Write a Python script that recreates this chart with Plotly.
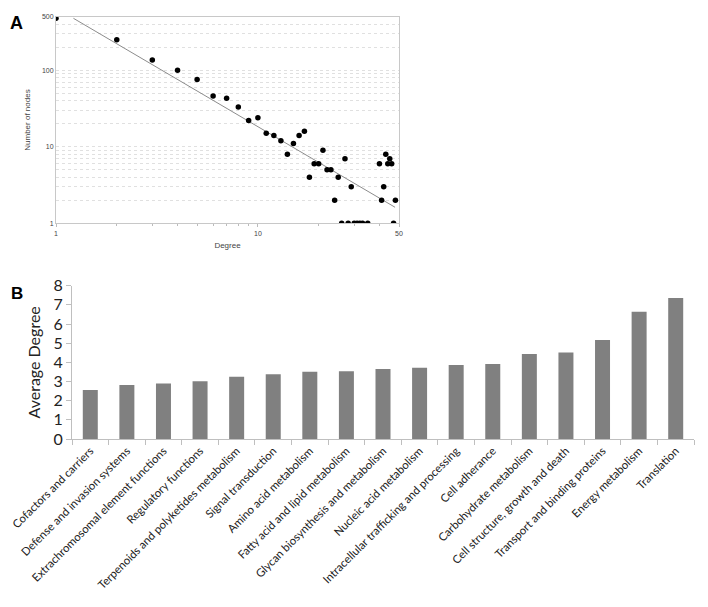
import plotly.graph_objects as go

# ---------------- Panel A data: degree distribution ----------------
degree = [1, 2, 3, 4, 5, 6, 7, 8, 9, 10, 11, 12, 13, 14, 15, 16, 17, 18, 19, 20,
          21, 22, 23, 24, 25, 26, 27, 28, 29, 30, 31, 32, 33, 35,
          40, 41, 42, 43, 44, 45, 46, 47, 48]
num_nodes = [478, 250, 136, 100, 76, 46, 43, 33, 22, 24, 15, 14, 12, 8, 11, 14, 16, 4, 6, 6,
             9, 5, 5, 2, 4, 1, 7, 1, 3, 1, 1, 1, 1, 1,
             6, 2, 3, 8, 6, 7, 6, 1, 2]
fit_x = [1.22, 47.8]
fit_y = [478, 1.62]

# ---------------- Panel B data: average degree per category ----------------
categories = ["Cofactors and carriers", "Defense and invasion systems",
              "Extrachromosomal element functions", "Regulatory functions",
              "Terpenoids and polyketides metabolism", "Signal transduction",
              "Amino acid metabolism", "Fatty acid and lipid metabolism",
              "Glycan biosynthesis and metabolism", "Nucleic acid metabolism",
              "Intracellular trafficking and processing", "Cell adherance",
              "Carbohydrate metabolism", "Cell structure, growth and death",
              "Transport and binding proteins", "Energy metabolism", "Translation"]
avg_degree = [2.56, 2.82, 2.89, 3.01, 3.25, 3.38, 3.51, 3.53, 3.65, 3.72,
              3.86, 3.91, 4.43, 4.52, 5.16, 6.64, 7.36]

W, H = 708, 607
fig = go.Figure()

fig.add_trace(go.Scatter(x=fit_x, y=fit_y, mode="lines",
                         line=dict(color="#8c8c8c", width=1),
                         xaxis="x", yaxis="y", showlegend=False))
fig.add_trace(go.Scatter(x=degree, y=num_nodes, mode="markers",
                         marker=dict(color="black", size=5.5),
                         xaxis="x", yaxis="y", showlegend=False))

fig.add_trace(go.Bar(x=categories, y=avg_degree, marker=dict(color="#808080", line=dict(width=0)),
                     xaxis="x2", yaxis="y2", showlegend=False))

minor_y = [v * m for m in (1, 10, 100) for v in range(2, 10) if v * m < 500]
minor_x = [2, 3, 4, 5, 6, 7, 8, 9, 20, 30, 40]

small_font = dict(family="Liberation Sans, Arial", size=7, color="#444")

fig.update_layout(
    width=W, height=H,
    margin=dict(l=0, r=0, t=0, b=0, autoexpand=False),
    paper_bgcolor="white", plot_bgcolor="white",
    bargap=0.59,
    xaxis=dict(
        type="log", domain=[56 / W, 399 / W], range=[0, 1.69897], automargin=False,
        anchor="y", tickvals=[1, 10, 50], ticktext=["1", "10", "50"],
        tickfont=small_font, ticks="outside", ticklen=3, tickcolor="#bbb",
        minor=dict(tickvals=minor_x, ticks="outside", ticklen=2, tickcolor="#bbb", showgrid=False),
        showgrid=False, zeroline=False,
        showline=True, mirror=True, linecolor="#c8c8c8", linewidth=1,
        title=dict(text="Degree", font=dict(family="Liberation Sans, Arial", size=8, color="#444"),
                   standoff=6),
    ),
    yaxis=dict(
        type="log", domain=[1 - 223.3 / H, 1 - 16.8 / H], range=[0, 2.69897], automargin=False,
        anchor="x", tickvals=[1, 10, 100, 500], ticktext=["1", "10", "100", "500"],
        tickfont=small_font, ticks="", showgrid=True, gridcolor="#e0e0e0",
        griddash="dot", gridwidth=1,
        minor=dict(tickvals=minor_y, showgrid=True, gridcolor="#e0e0e0", griddash="dot", ticks=""),
        zeroline=False, showline=True, mirror=True, linecolor="#c8c8c8", linewidth=1,
        title=dict(text="Number of nodes", font=dict(family="Liberation Sans, Arial", size=8, color="#444"),
                   standoff=10),
    ),
    xaxis2=dict(
        domain=[72 / W, 694 / W], anchor="y2", automargin=False,
        tickangle=-45, tickson="boundaries", ticks="outside", ticklen=5, tickcolor="#bfbfbf",
        tickfont=dict(family="Lato, Open Sans", size=11.3, color="#222"),
        showline=True, linecolor="#bfbfbf", linewidth=1, showgrid=False,
    ),
    yaxis2=dict(
        domain=[1 - 439 / H, 1 - 285.7 / H], range=[0, 8], anchor="x2", automargin=False,
        dtick=1, ticks="outside", ticklen=5, tickcolor="#bfbfbf",
        tickfont=dict(family="Lato, Open Sans", size=16, color="#222"),
        showline=True, linecolor="#bfbfbf", linewidth=1, showgrid=False, zeroline=False,
        title=dict(text="Average Degree", font=dict(family="Lato, Open Sans", size=16, color="#222"),
                   standoff=8),
    ),
    annotations=[
        dict(text="<b>A</b>", x=7.5 / W, y=1 - 11 / H, xref="paper", yref="paper",
             showarrow=False, font=dict(family="Liberation Sans, Arial", size=18, color="black")),
        dict(text="<b>B</b>", x=8.5 / W, y=1 - 294 / H, xref="paper", yref="paper",
             showarrow=False, font=dict(family="Liberation Sans, Arial", size=17, color="black")),
    ],
)

fig.write_html("out.html", config={"displayModeBar": False},
               post_script="document.body.style.margin='0';document.body.style.overflow='hidden';")
